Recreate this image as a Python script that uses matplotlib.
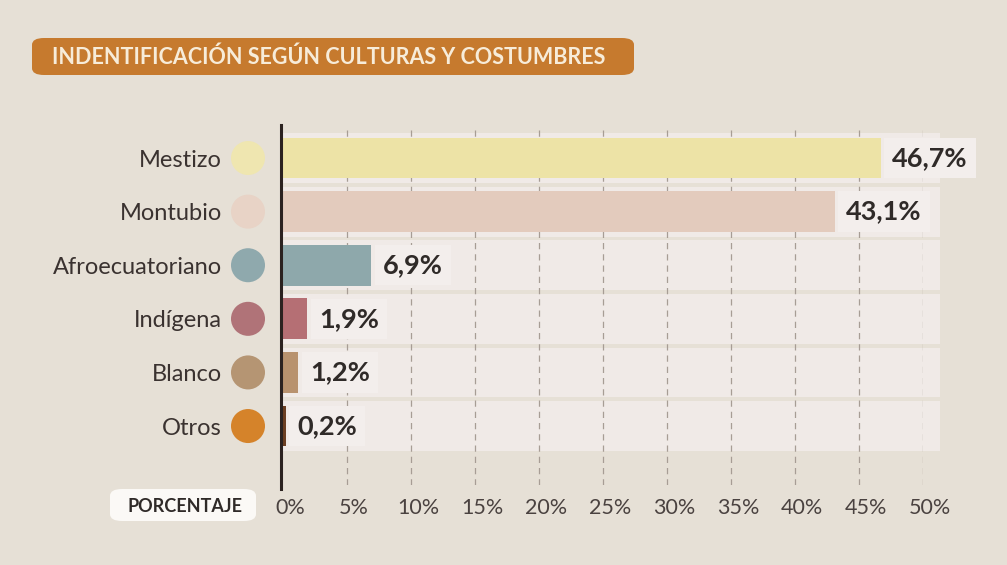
import matplotlib
matplotlib.use("Agg")
import matplotlib.pyplot as plt
from matplotlib.patches import FancyBboxPatch
import matplotlib.transforms as mtransforms

categories = ["Mestizo", "Montubio", "Afroecuatoriano", "Indígena", "Blanco", "Otros"]
values = [46.7, 43.1, 6.9, 1.9, 1.2, 0.2]
value_labels = ["46,7%", "43,1%", "6,9%", "1,9%", "1,2%", "0,2%"]
bar_colors = ["#ede3a6", "#e3cbbd", "#8ea8ab", "#b56f74", "#b8926e", "#6b3e22"]
dot_colors = ["#efe6b0", "#e8d3c6", "#8fa9ad", "#b07378", "#b59573", "#d5832a"]
xticks = [0, 5, 10, 15, 20, 25, 30, 35, 40, 45, 50]
xtick_labels = ["0%", "5%", "10%", "15%", "20%", "25%", "30%", "35%", "40%", "45%", "50%"]
title = "INDENTIFICACIÓN SEGÚN CULTURAS Y COSTUMBRES"
axis_name = "PORCENTAJE"

plt.rcParams['font.family'] = ['Lato', 'DejaVu Sans']

W, H = 1007, 565
fig = plt.figure(figsize=(W / 100, H / 100), dpi=100)
bg = "#e6e0d6"
fig.patch.set_facecolor(bg)

def fx(px):
    return px / W

def fy(py):
    return 1 - py / H

# axes: x 0..50 maps to px 283..923 ; y top 125, bottom 485
ax_left, ax_right = 283, 923
ax_top, ax_bot = 125, 485
ax = fig.add_axes([fx(ax_left), fy(ax_bot), fx(ax_right - ax_left), (ax_bot - ax_top) / H])
ax.set_facecolor("none")
ax.set_xlim(0, 50)
ax.set_ylim(5 + 1.1, -0.616)

n = len(categories)
ypos = list(range(n))

# row background bands
band_color = "#f0eae7"
ax.barh(ypos, [51.3] * n, height=0.93, color=band_color, zorder=1, clip_on=False)

# grid lines
for t in xticks[1:]:
    ax.axvline(t, color="#a79d95", lw=0.9, ls=(0, (5, 4)), zorder=2, ymin=0, ymax=1.0)

# bars
ax.barh(ypos, values, height=0.76, color=bar_colors, zorder=3)

# axis line
ax.axvline(-0.15, color="#2b2220", lw=2.2, zorder=4, ymin=-0.01, ymax=1, clip_on=False)

# value labels
for y, v, lab in zip(ypos, values, value_labels):
    ax.text(v + 0.9, y, lab, ha="left", va="center", fontsize=19.5, fontweight="bold",
            color="#2f2a28", zorder=5,
            bbox=dict(boxstyle="square,pad=0.3", fc="#f3eeec", ec="none"))

# category labels
ax.set_yticks(ypos)
ax.set_yticklabels(categories, fontsize=17, color="#3a3230")
ax.tick_params(axis="y", length=0, pad=44)

# circles
trans = mtransforms.blended_transform_factory(fig.transFigure, ax.transData)
ax.scatter([fx(248)] * n, ypos, s=600, c=dot_colors, transform=trans, clip_on=False, zorder=5,
           linewidths=0)

# x ticks
ax.set_xticks(xticks)
ax.set_xticklabels(xtick_labels, fontsize=15.5, color="#4a4240")
ax.tick_params(axis="x", length=0, pad=9)
offset = mtransforms.ScaledTranslation(7 / 100, 0, fig.dpi_scale_trans)
for lbl in ax.get_xticklabels():
    lbl.set_transform(lbl.get_transform() + offset)
for s in ax.spines.values():
    s.set_visible(False)

# title box
tb = FancyBboxPatch((fx(32), fy(75)), fx(602), (75 - 38) / H,
                    boxstyle="round,pad=0,rounding_size=0.012",
                    transform=fig.transFigure, fc="#c67a2e", ec="none", zorder=1)
fig.patches.append(tb)
fig.text(fx(52), fy(57), title, fontsize=15.5, fontweight="bold", color="#f7ecd9",
         ha="left", va="center")

# PORCENTAJE box
pb = FancyBboxPatch((fx(110), fy(521)), fx(146), (521 - 489) / H,
                    boxstyle="round,pad=0,rounding_size=0.012",
                    transform=fig.transFigure, fc="#fbf9f6", ec="none", zorder=1)
fig.patches.append(pb)
fig.text(fx(185), fy(506), axis_name, fontsize=13, fontweight="bold", color="#2f2a28",
         ha="center", va="center")

fig.savefig("out.png", dpi=100, facecolor=bg)
